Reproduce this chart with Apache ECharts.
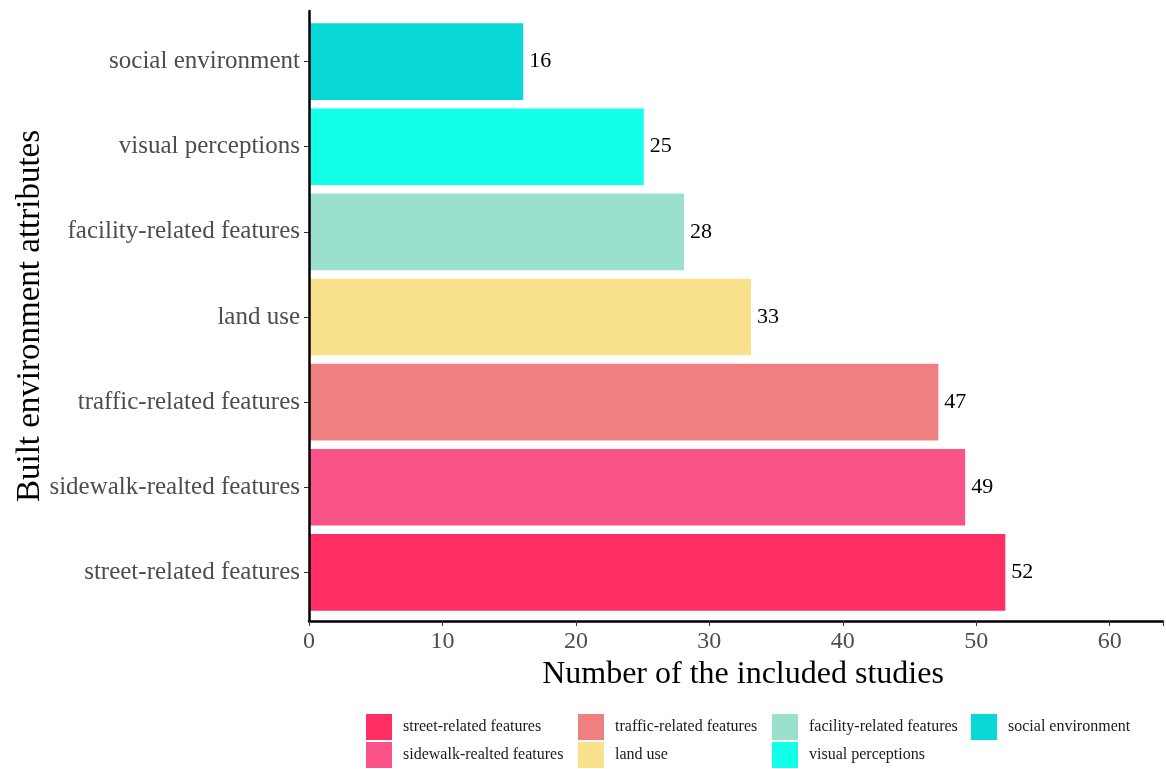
<!DOCTYPE html>
<html>
<head>
<meta charset="utf-8">
<script src="https://cdn.jsdelivr.net/npm/echarts@6/dist/echarts.min.js"></script>
<style>
  html, body { margin: 0; padding: 0; background: #fff; }
  #chart { width: 1166px; height: 769px; }
</style>
</head>
<body>
<div id="chart"></div>
<script>
// categories listed top to bottom as drawn
var categories = [
  "social environment",
  "visual perceptions",
  "facility-related features",
  "land use",
  "traffic-related features",
  "sidewalk-realted features",
  "street-related features"
];
var counts = [16, 25, 28, 33, 47, 49, 52];
var colors = ["#08d8d6", "#12ffea", "#9bdfcd", "#f9e08b", "#f08080", "#fa5387", "#ff2e63"];
var xTicks = [0, 10, 20, 30, 40, 50, 60];

var FONT = "Liberation Serif";
var chart = echarts.init(document.getElementById("chart"));

// one series per category so each gets its own legend entry
var series = categories.map(function (name, i) {
  return {
    name: name,
    type: "bar",
    xAxisIndex: 0,
    yAxisIndex: 0,
    barGap: "-100%",
    barCategoryGap: "10%",
    itemStyle: { color: colors[i] },
    label: {
      show: true,
      position: "right",
      distance: 6,
      fontFamily: FONT,
      fontSize: 22,
      color: "#000"
    },
    data: categories.map(function (c, j) {
      return j === i ? counts[i] : null;
    })
  };
});

// legend runs street-related first, two per column
var legendOrder = categories.slice().reverse();
var legendLefts = [366, 578, 772, 971];
var legends = [];
for (var k = 0; k < legendOrder.length; k += 2) {
  legends.push({
    orient: "vertical",
    left: legendLefts[k / 2],
    top: 714,
    padding: 0,
    itemWidth: 26,
    itemHeight: 26,
    itemGap: 2,
    icon: "rect",
    selectedMode: false,
    textStyle: {
      fontFamily: FONT,
      fontSize: 16,
      color: "#1a1a1a",
      padding: [3, 0, 0, 6]
    },
    data: legendOrder.slice(k, k + 2)
  });
}

chart.setOption({
  backgroundColor: "#fff",
  animation: false,
  legend: legends,
  grid: [
    // bars
    { left: 309, right: 0, top: 19, height: 596 },
    // panel frame with the axes lines
    { left: 309, right: 0, top: 11, height: 610 }
  ],
  xAxis: [
    {
      gridIndex: 0,
      type: "value",
      min: 0,
      max: 64,
      interval: 10,
      show: false
    },
    {
      gridIndex: 1,
      type: "value",
      min: 0,
      max: 64,
      interval: 10,
      z: 5,
      axisLine: { show: true, lineStyle: { color: "#000", width: 2.5 } },
      axisTick: { show: true, length: 5, lineStyle: { color: "#333", width: 1 } },
      axisLabel: {
        margin: 9,
        fontFamily: FONT,
        fontSize: 24,
        color: "#4d4d4d",
        formatter: function (v) {
          return xTicks.indexOf(v) >= 0 ? String(v) : "";
        }
      },
      splitLine: { show: false },
      name: "Number of the included studies",
      nameLocation: "middle",
      nameGap: 28,
      nameTextStyle: {
        fontFamily: FONT,
        fontSize: 32,
        color: "#000",
        padding: [0, 0, 0, 14]
      }
    }
  ],
  yAxis: [
    {
      gridIndex: 0,
      type: "category",
      inverse: true,
      data: categories,
      axisLine: { show: false },
      axisTick: {
        show: true,
        alignWithLabel: true,
        length: 5,
        lineStyle: { color: "#333", width: 1 }
      },
      axisLabel: {
        margin: 9,
        fontFamily: FONT,
        fontSize: 25,
        color: "#4d4d4d"
      }
    },
    {
      gridIndex: 1,
      type: "value",
      z: 5,
      axisLine: { show: true, lineStyle: { color: "#000", width: 2.5 } },
      axisTick: { show: false },
      axisLabel: { show: false },
      splitLine: { show: false },
      name: "Built environment attributes",
      nameLocation: "middle",
      nameGap: 262,
      nameTextStyle: {
        fontFamily: FONT,
        fontSize: 33,
        color: "#000"
      }
    }
  ],
  series: series
});
</script>
</body>
</html>
